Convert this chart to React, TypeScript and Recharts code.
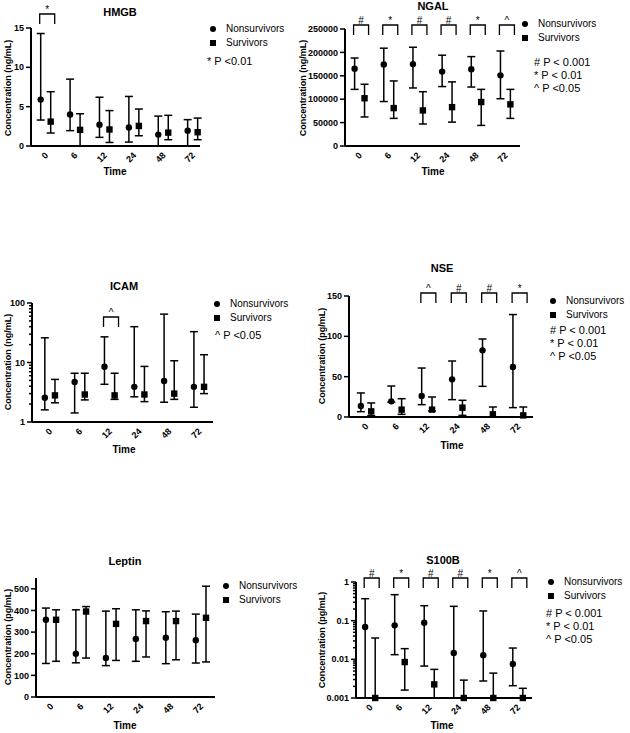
import { ComposedChart, Scatter, XAxis, YAxis, ErrorBar } from "recharts";

const timePoints = ["0", "6", "12", "24", "48", "72"];

// each entry: [median, lower, upper]
const hmgbNonsurvivors = [[5.9, 3.3, 14.3], [4.0, 1.95, 8.5], [2.7, 1.1, 6.2], [2.35, 0.5, 6.3], [1.45, 0, 3.8], [1.95, 0, 3.35]];
const hmgbSurvivors = [[3.1, 1.65, 6.9], [2.05, 0, 4.1], [2.1, 0.45, 4.5], [2.55, 1.3, 4.7], [1.7, 0.8, 3.9], [1.75, 0.8, 3.55]];
const hmgbSig = ["*", "", "", "", "", ""];

const ngalNonsurvivors = [[165000, 121000, 188000], [174000, 95000, 209000], [175000, 124000, 211000], [159000, 127000, 194000], [164000, 126000, 191000], [151000, 101000, 203000]];
const ngalSurvivors = [[102000, 62000, 132000], [81000, 59000, 139000], [76000, 47000, 116000], [83000, 51000, 137000], [94000, 44000, 121000], [89000, 59000, 121000]];
const ngalSig = ["#", "*", "#", "#", "*", "^"];

const icamNonsurvivors = [[2.55, 1.6, 26], [4.7, 1.42, 6.6], [8.5, 4.3, 27], [3.9, 2.65, 40], [4.9, 2.15, 65], [3.9, 1.77, 33]];
const icamSurvivors = [[2.8, 2.1, 5.2], [2.9, 2.35, 6.6], [2.8, 2.4, 6.6], [2.9, 2.2, 8.6], [3.0, 2.4, 10.7], [3.9, 3.0, 13.5]];
const icamSig = ["", "", "^", "", "", ""];

const nseNonsurvivors = [[13.6, 6.6, 29.8], [19.4, 18.5, 38.4], [26, 15.3, 60.7], [46.7, 21.5, 69.4], [82.6, 38, 96.7], [62, 11.6, 127]];
const nseSurvivors = [[7, 1.7, 17.4], [9.1, 3.3, 22.7], [9.1, 7.5, 24.8], [11.6, 2, 20.7], [3.3, 0, 12.4], [2, 0, 12.4]];
const nseSig = ["", "", "^", "#", "#", "*"];

const leptinNonsurvivors = [[357, 155, 411], [200, 158, 403], [180, 145, 397], [268, 165, 403], [274, 154, 394], [262, 157, 383]];
const leptinSurvivors = [[357, 165, 403], [395, 180, 418], [338, 169, 408], [351, 185, 398], [351, 172, 397], [366, 162, 512]];
const leptinSig = ["", "", "", "", "", ""];

const s100bNonsurvivors = [[0.0686, 0.001, 0.37], [0.0757, 0.0132, 0.47], [0.0887, 0.0067, 0.244], [0.0146, 0.001, 0.235], [0.0127, 0.00275, 0.178], [0.0076, 0.00208, 0.0196]];
const s100bSurvivors = [[0.001, 0.001, 0.0356], [0.0085, 0.0016, 0.0189], [0.00225, 0.001, 0.0055], [0.001, 0.001, 0.0029], [0.001, 0.001, 0.0044], [0.001, 0.001, 0.00178]];
const s100bSig = ["#", "*", "#", "#", "*", "^"];

const hmgbTicks = [0, 5, 10, 15];
const ngalTicks = [0, 50000, 100000, 150000, 200000, 250000];
const icamTicks = [1, 10, 100];
const nseTicks = [0, 50, 100, 150];
const leptinTicks = [0, 100, 200, 300, 400, 500];
const s100bTicks = [0.001, 0.01, 0.1, 1];

const notesThree = ["# P < 0.001", "* P < 0.01", "^ P <0.05"];

const FONT = '"Liberation Sans", Arial, Helvetica, sans-serif';
const OFFSET = 0.17;

// minor ticks between decades for log axes
function minorTicks(majors: number[]) {
  const out: number[] = [];
  for (let i = 0; i < majors.length - 1; i++) {
    for (let k = 2; k <= 9; k++) out.push(+(majors[i] * k).toPrecision(6));
  }
  return out;
}

const toPoints = (rows: number[][], dx: number) =>
  rows.map((r, i) => ({ x: i + dx, y: r[0], err: [r[0] - r[1], r[2] - r[0]] }));

const Dot = (p: any) => <circle cx={p.cx} cy={p.cy} r={3.2} fill="#000" />;
const Sq = (p: any) => <rect x={p.cx - 3.2} y={p.cy - 3.2} width={6.4} height={6.4} fill="#000" />;

function makeYTick(majors: number[]) {
  return (props: any) => {
    const { x, y, payload } = props;
    const v = payload.value;
    const major = majors.some((m) => m === v || (m !== 0 && Math.abs(m - v) / m < 1e-6));
    return (
      <g>
        <line x1={x - (major ? 5 : 3)} y1={y} x2={x} y2={y} stroke="#000" strokeWidth={1.5} />
        {major && (
          <text x={x - 7} y={y} dy="0.35em" textAnchor="end" fontSize={9} fontWeight="bold" fill="#000">
            {String(v)}
          </text>
        )}
      </g>
    );
  };
}

const XTick = (props: any) => {
  const { x, y, payload } = props;
  const ax = x + 3;
  const ay = y + 10;
  return (
    <text x={ax} y={ay} transform={`rotate(-45 ${ax} ${ay})`} textAnchor="end" fontSize={9} fontWeight="bold" fill="#000">
      {timePoints[payload.value]}
    </text>
  );
};

function makeBracket(dy: number) {
  return (p: any) => {
    const { cx, cy, payload } = p;
    if (!payload.s) return <g />;
    const top = cy + dy;
    const l = cx - 6;
    const r = cx + 9;
    return (
      <g>
        <path d={`M${l},${top + 10}V${top}H${r}V${top + 10}`} fill="none" stroke="#000" strokeWidth={1.3} />
        <text x={(l + r) / 2} y={top - 1.5} textAnchor="middle" fontSize={10} fill="#000">
          {payload.s}
        </text>
      </g>
    );
  };
}

type Panel = {
  title: string;
  unit: string;
  nons: number[][];
  surv: number[][];
  sig: string[];
  notes: string[];
  ticks: number[];
  log?: boolean;
  yDomain: [number, number];
  xDomain: [number, number];
  plot: [number, number, number, number]; // left, right, top, bottom
  titleAt: [number, number];
  timeAt: [number, number];
  yLabelAt: [number, number];
  legendAt: [number, number];
  notesAt: [number, number];
  bracketDy: number;
};

const panels: Panel[] = [
  {
    title: "HMGB", unit: "ng/mL", nons: hmgbNonsurvivors, surv: hmgbSurvivors, sig: hmgbSig,
    notes: ["* P <0.01"], ticks: hmgbTicks, yDomain: [0, 15], xDomain: [-0.5, 5.25],
    plot: [31, 200, 28, 146], titleAt: [120, 12], timeAt: [115, 172], yLabelAt: [8, 88],
    legendAt: [213, 29], notesAt: [207, 61], bracketDy: -14,
  },
  {
    title: "NGAL", unit: "ng/mL", nons: ngalNonsurvivors, surv: ngalSurvivors, sig: ngalSig,
    notes: notesThree, ticks: ngalTicks, yDomain: [0, 250000], xDomain: [-0.5, 5.5],
    plot: [345, 520, 29, 146], titleAt: [433, 6], timeAt: [433, 172], yLabelAt: [303, 88],
    legendAt: [525, 24], notesAt: [534, 62], bracketDy: -4,
  },
  {
    title: "ICAM", unit: "ng/mL", nons: icamNonsurvivors, surv: icamSurvivors, sig: icamSig,
    notes: ["^ P <0.05"], ticks: icamTicks, log: true, yDomain: [1, 100], xDomain: [-0.6, 5.47],
    plot: [32, 213, 303, 422], titleAt: [124, 286], timeAt: [124, 450], yLabelAt: [8, 362],
    legendAt: [217, 304], notesAt: [215, 335], bracketDy: 14,
  },
  {
    title: "NSE", unit: "pg/mL", nons: nseNonsurvivors, surv: nseSurvivors, sig: nseSig,
    notes: notesThree, ticks: nseTicks, yDomain: [0, 150], xDomain: [-0.56, 5.49],
    plot: [349, 533, 296, 417], titleAt: [442, 268], timeAt: [452, 446], yLabelAt: [322, 356],
    legendAt: [553, 301], notesAt: [550, 330], bracketDy: -3,
  },
  {
    title: "Leptin", unit: "pg/mL", nons: leptinNonsurvivors, surv: leptinSurvivors, sig: leptinSig,
    notes: [], ticks: leptinTicks, yDomain: [0, 550], xDomain: [-0.5, 5.47],
    plot: [36, 215, 578, 697], titleAt: [125, 561], timeAt: [125, 726], yLabelAt: [8, 637],
    legendAt: [226, 586], notesAt: [226, 620], bracketDy: -4,
  },
  {
    title: "S100B", unit: "pg/mL", nons: s100bNonsurvivors, surv: s100bSurvivors, sig: s100bSig,
    notes: notesThree, ticks: s100bTicks, log: true, yDomain: [0.001, 1], xDomain: [-0.48, 5.48],
    plot: [356, 532, 582, 698], titleAt: [443, 560], timeAt: [442, 726], yLabelAt: [322, 640],
    legendAt: [551, 582], notesAt: [546, 613], bracketDy: -4,
  },
];

const centered = (x: number, y: number, extra: any = {}) => ({
  position: "absolute" as const,
  left: x,
  top: y,
  transform: "translate(-50%, -50%)",
  whiteSpace: "nowrap" as const,
  lineHeight: 1,
  color: "#000",
  ...extra,
});

function PanelChart({ p }: { p: Panel }) {
  const [left, right, top, bottom] = p.plot;
  const yw = 40;
  const mt = 30;
  const xh = 25;
  const width = right - left + yw + 4;
  const height = bottom - top + mt + xh;
  const allTicks = p.log ? [...p.ticks, ...minorTicks(p.ticks)].sort((a, b) => a - b) : p.ticks;
  const brackets = p.sig.map((s, i) => ({ x: i, y: 1, s }));
  const [lx, ly] = p.legendAt;
  return (
    <>
      <div style={{ position: "absolute", left: left - yw, top: top - mt }}>
        <ComposedChart width={width} height={height} margin={{ top: mt, right: 4, left: 0, bottom: 0 }} style={{ fontFamily: FONT }}>
          <XAxis
            type="number"
            dataKey="x"
            domain={p.xDomain}
            ticks={[0, 1, 2, 3, 4, 5]}
            interval={0}
            tick={<XTick />}
            tickLine={false}
            tickSize={0}
            tickMargin={0}
            axisLine={{ stroke: "#000", strokeWidth: 2 }}
            height={xh}
          />
          <YAxis
            type="number"
            dataKey="y"
            scale={p.log ? "log" : "linear"}
            domain={p.yDomain}
            ticks={allTicks}
            interval={0}
            tick={makeYTick(p.ticks)}
            tickLine={false}
            tickSize={0}
            tickMargin={0}
            axisLine={{ stroke: "#000", strokeWidth: 2 }}
            width={yw}
          />
          <YAxis yAxisId="br" type="number" dataKey="y" domain={[0, 1]} hide />
          <Scatter data={toPoints(p.nons, -OFFSET)} shape={Dot} isAnimationActive={false}>
            <ErrorBar dataKey="err" direction="y" width={4} stroke="#000" strokeWidth={1.5} isAnimationActive={false} />
          </Scatter>
          <Scatter data={toPoints(p.surv, OFFSET)} shape={Sq} isAnimationActive={false}>
            <ErrorBar dataKey="err" direction="y" width={4} stroke="#000" strokeWidth={1.5} isAnimationActive={false} />
          </Scatter>
          <Scatter yAxisId="br" data={brackets} shape={makeBracket(p.bracketDy)} isAnimationActive={false} />
        </ComposedChart>
      </div>
      <div style={centered(p.titleAt[0], p.titleAt[1], { fontSize: 11, fontWeight: "bold" })}>{p.title}</div>
      <div style={centered(p.timeAt[0], p.timeAt[1], { fontSize: 10, fontWeight: "bold" })}>Time</div>
      <div style={centered(p.yLabelAt[0], p.yLabelAt[1], { fontSize: 9, fontWeight: "bold", transform: "translate(-50%, -50%) rotate(-90deg)" })}>
        Concentration ({p.unit})
      </div>
      <div style={centered(lx, ly)}>
        <div style={{ width: 6, height: 6, borderRadius: "50%", background: "#000" }} />
      </div>
      <div style={{ position: "absolute", left: lx + 13, top: ly, transform: "translateY(-50%)", fontSize: 10, lineHeight: 1, whiteSpace: "nowrap" }}>
        Nonsurvivors
      </div>
      <div style={centered(lx, ly + 14)}>
        <div style={{ width: 6, height: 6, background: "#000" }} />
      </div>
      <div style={{ position: "absolute", left: lx + 13, top: ly + 14, transform: "translateY(-50%)", fontSize: 10, lineHeight: 1, whiteSpace: "nowrap" }}>
        Survivors
      </div>
      {p.notes.map((n, i) => (
        <div
          key={n}
          style={{ position: "absolute", left: p.notesAt[0], top: p.notesAt[1] + i * 13, transform: "translateY(-50%)", fontSize: 11, lineHeight: 1, whiteSpace: "nowrap" }}
        >
          {n}
        </div>
      ))}
    </>
  );
}

export default function App() {
  return (
    <div style={{ position: "absolute", left: 0, top: 0, width: 630, height: 733, background: "#fff", fontFamily: FONT, color: "#000", overflow: "hidden" }}>
      {panels.map((p) => (
        <PanelChart key={p.title} p={p} />
      ))}
    </div>
  );
}
